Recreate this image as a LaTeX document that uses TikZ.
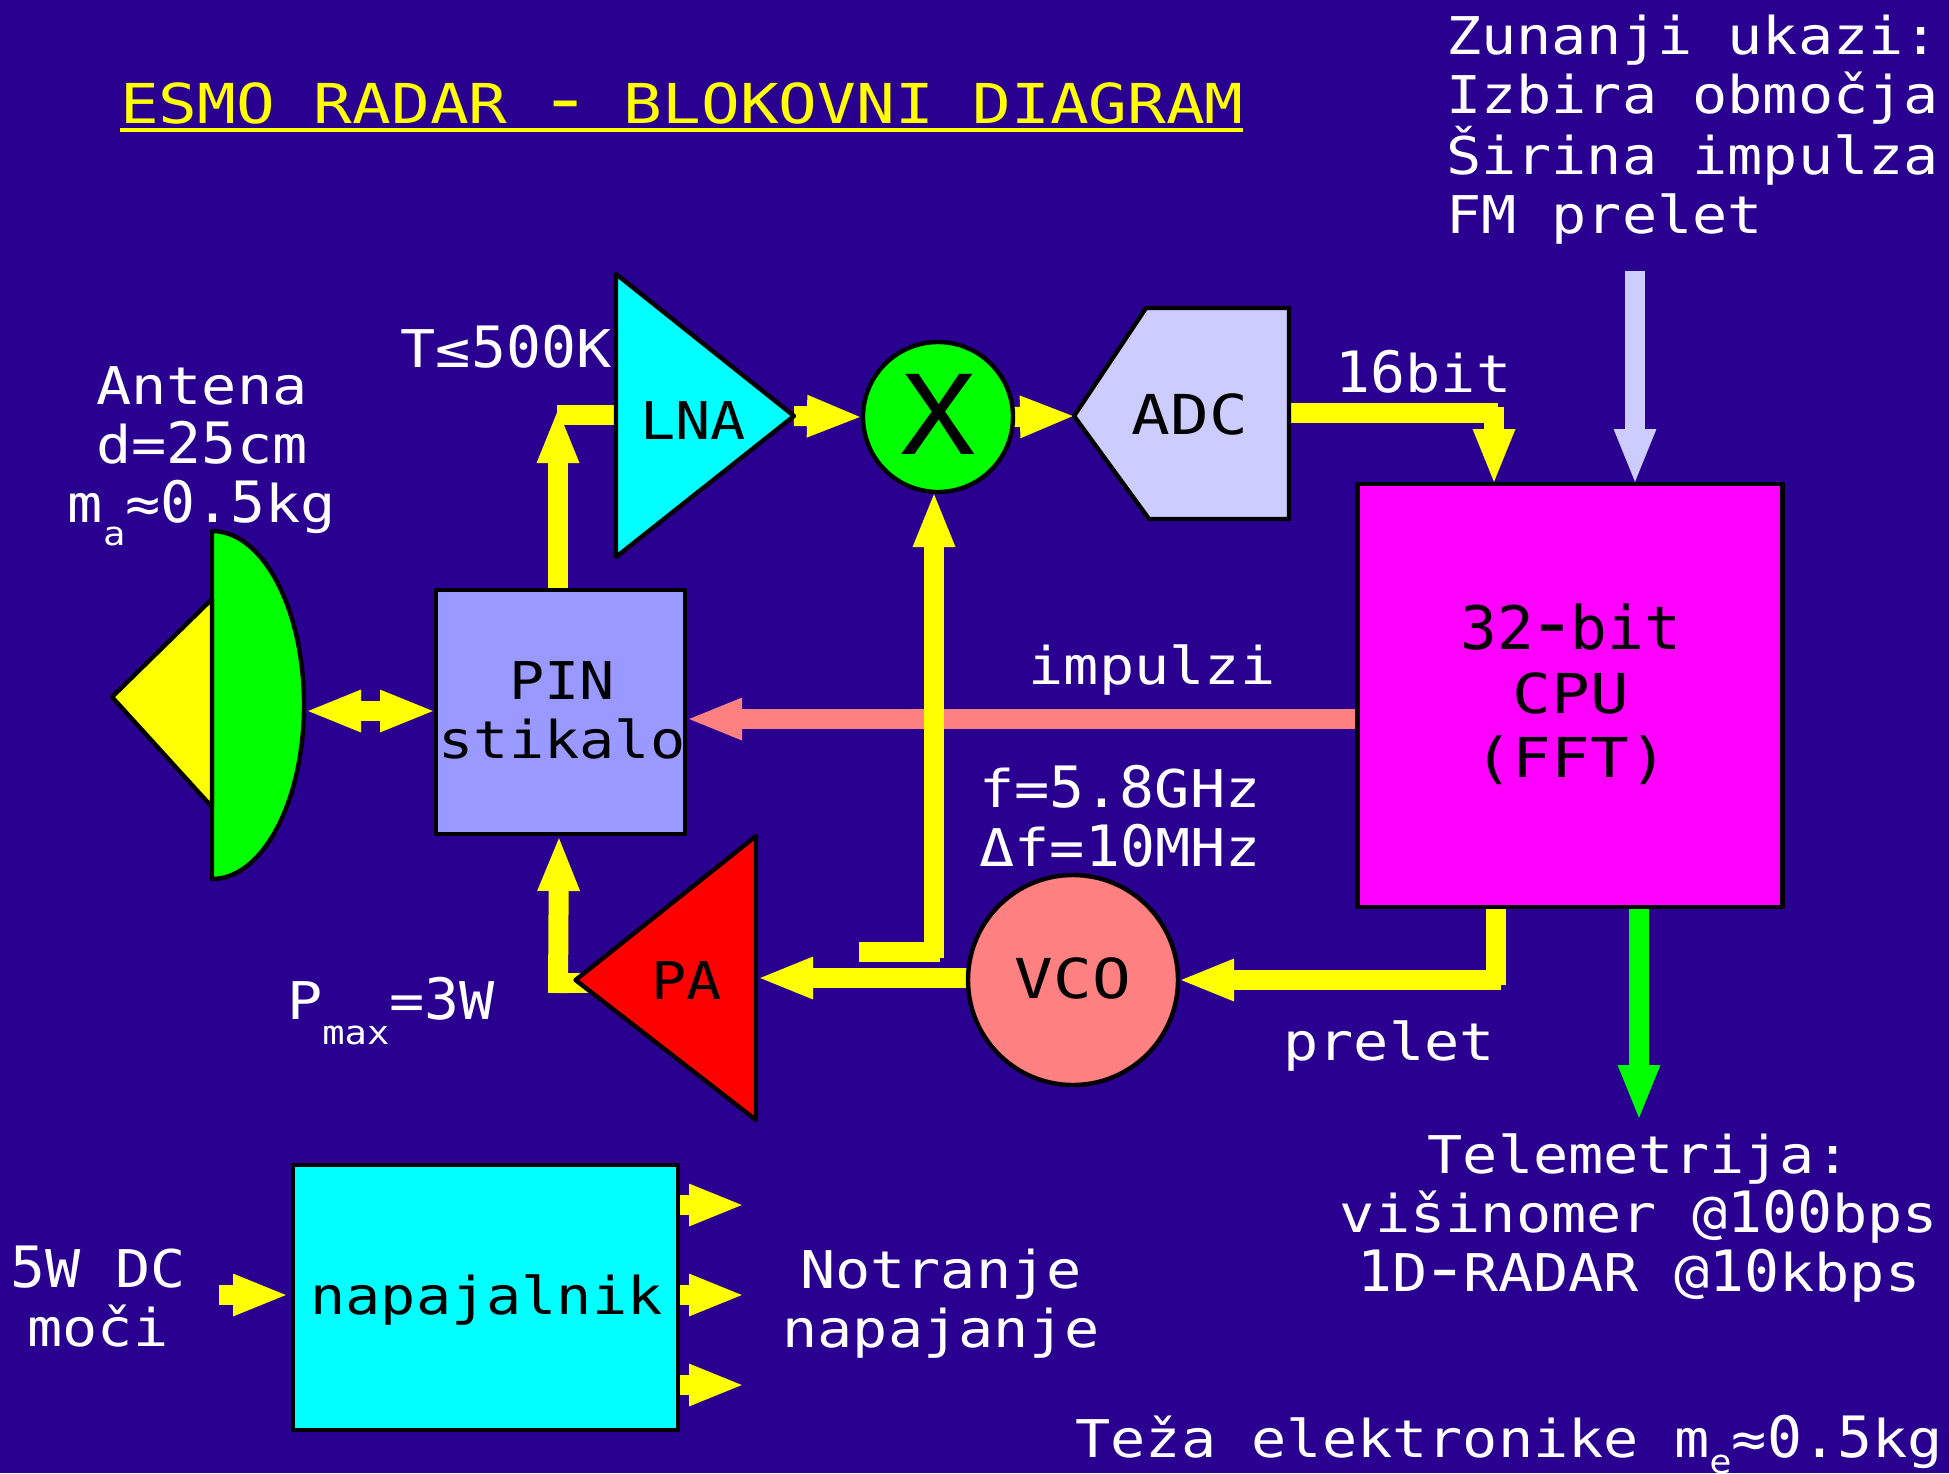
\documentclass[tikz,border=0pt]{standalone}
\usepackage{fontspec}
\usetikzlibrary{arrows.meta}
\newfontfamily\basefam[FakeStretch=1.125]{DejaVu Sans Mono}
\newfontfamily\numfam[FakeStretch=1.02]{DejaVu Sans Mono}
\newfontfamily\bigfam[FakeStretch=1.17]{DejaVu Sans Mono}
\newfontfamily\xfam[FakeStretch=1.14]{DejaVu Sans Mono}
\newcommand{\basefont}{\fontsize{26}{29.35}\selectfont\basefam}
\newcommand{\bigfont}{\fontsize{27.5}{32}\selectfont\bigfam}
\newcommand{\Nm}[1]{{\fontsize{28.5}{29.35}\selectfont\numfam #1}}
\newcommand{\Sb}[2]{\raisebox{#1}{\fontsize{16.5}{18}\selectfont\basefam #2}}
\newcommand{\Hy}[1]{\makebox[#1][c]{\scalebox{1.4}[1.3]{-}}}
\definecolor{bgc}{HTML}{2A0091}
\definecolor{pinc}{HTML}{9999FF}
\definecolor{adcc}{HTML}{CCCCFF}
\definecolor{vcoc}{HTML}{FF8080}
\definecolor{yel}{HTML}{FFFF00}
\definecolor{cyn}{HTML}{00FFFF}
\definecolor{mag}{HTML}{FF00FF}
\definecolor{grn}{HTML}{00FF00}
\definecolor{rd}{HTML}{FF0000}
\pgfdeclarelayer{canvas}
\pgfdeclarelayer{wires}
\pgfsetlayers{canvas,wires,main}
\tikzset{
  lbl/.style={inner sep=0pt,outer sep=0pt,text=white,font=\basefont,align=center,anchor=base},
  blk/.style={lbl,text=black},
  bigblk/.style={blk,font=\bigfont},
  shp/.style={draw=black,line width=2.2pt,line join=round},
  boxn/.style={shp,inner sep=0pt,outer sep=0pt,rectangle},
  circn/.style={shp,inner sep=0pt,outer sep=0pt,circle},
  wire/.style={draw=yel,line width=10pt},
  head/.style={-{Triangle[length=28pt,width=19pt]}},
  dhead/.style={{Triangle[length=28pt,width=19pt]}-{Triangle[length=28pt,width=19pt]}},
}
\begin{document}
\begin{tikzpicture}[x=0.5pt,y=-0.5pt]
\useasboundingbox (0,0) rectangle (1949,1473);
\begin{pgfonlayer}{canvas}
\fill[bgc] (0,0) rectangle (1949,1473);
\end{pgfonlayer}

% blocks
\node[boxn,fill=pinc,minimum width=124.5pt,minimum height=122pt] (pin) at (560.5,712) {};
\node[boxn,fill=mag,minimum width=212.5pt,minimum height=211.5pt] (cpu) at (1570,695.5) {};
\node[boxn,fill=cyn,minimum width=192.5pt,minimum height=132.5pt] (psu) at (485.5,1297.5) {};
\node[circn,fill=grn,minimum size=75pt] (mixer) at (938,417) {};
\node[circn,fill=vcoc,minimum size=105pt] (vco) at (1073,980) {};

% polygons
\draw[shp,fill=grn] (212,531) arc[start angle=90,end angle=-90,x radius=46pt,y radius=87pt] -- cycle;
\draw[shp,fill=yel] (112,697) -- (212,599) -- (212,807) -- cycle;
\draw[shp,fill=cyn] (616,274) -- (794,416) -- (616,557) -- cycle;
\draw[shp,fill=rd] (575.5,980) -- (756,836) -- (756,1120) -- cycle;
\draw[shp,fill=adcc] (1074,416) -- (1146,308) -- (1289,308) -- (1289,519) -- (1149,519) -- cycle;

% ports
\coordinate (dishE) at (305,711);
\coordinate (pinW) at (436,711);
\coordinate (pinN) at (558,590);
\coordinate (lnaN) at (558,407);
\coordinate (lnaW) at (616,415);
\coordinate (lnaC) at (557,415);
\coordinate (lnaT) at (794,416);
\coordinate (adcT) at (1076,416);
\coordinate (adcE) at (1291,413);
\coordinate (adcC) at (1498,413);
\coordinate (cpuA) at (1494,407);
\coordinate (cpuAT) at (1494,485);
\coordinate (extS) at (1635,271);
\coordinate (extT) at (1635,485);
\coordinate (cpuP) at (1356,719);
\coordinate (pinE) at (686,719);
\coordinate (cpuV) at (1496,907);
\coordinate (cpuVC) at (1496,985);
\coordinate (vcoC) at (1501,980);
\coordinate (vcoW) at (968,978);
\coordinate (paE) at (757,978);
\coordinate (stubW) at (859,952);
\coordinate (stubE) at (940,952);
\coordinate (mixV) at (934,958);
\coordinate (mixS) at (934,491);
\coordinate (paT) at (590,983);
\coordinate (paC) at (548,983);
\coordinate (pinV) at (558,993);
\coordinate (pinS) at (559,835);
\coordinate (cpuG) at (1639,907);
\coordinate (telN) at (1639,1121);
\coordinate (dcS) at (219,1295);
\coordinate (psuW) at (289,1295);
\coordinate (o1S) at (680,1205);
\coordinate (o1T) at (745,1205);
\coordinate (o2S) at (680,1295);
\coordinate (o2T) at (745,1295);
\coordinate (o3S) at (680,1385);
\coordinate (o3T) at (745,1385);

% connectors
\begin{pgfonlayer}{wires}
\draw[wire,draw=vcoc,head] (cpuP) -- (pinE);
\draw[wire,dhead] (dishE) -- (pinW);
\draw[wire,head] (pinN) -- (lnaN);
\draw[wire] (lnaW) -- (lnaC);
\draw[wire,head] (lnaT) -- (mixer.west);
\draw[wire,head] (mixer.east) -- (adcT);
\draw[wire] (adcE) -- (adcC);
\draw[wire,head] (cpuA) -- (cpuAT);
\draw[wire,draw=adcc,head] (extS) -- (extT);
\draw[wire] (cpuV) -- (cpuVC);
\draw[wire,head] (vcoC) -- (vco.east);
\draw[wire,head] (vcoW) -- (paE);
\draw[wire] (stubW) -- (stubE);
\draw[wire,head] (mixV) -- (mixS);
\draw[wire] (paT) -- (paC);
\draw[wire,head] (pinV) -- (pinS);
\draw[wire,draw=grn,head] (cpuG) -- (telN);
\draw[wire,head] (dcS) -- (psuW);
\draw[wire,head] (o1S) -- (o1T);
\draw[wire,head] (o2S) -- (o2T);
\draw[wire,head] (o3S) -- (o3T);
\end{pgfonlayer}

% title
\node[lbl,text=yel,font=\bigfont] (title) at (682,123) {ESMO RADAR \Hy{19.4pt} BLOKOVNI DIAGRAM};
\draw[yel,line width=2pt] (120,130) -- (1243,130);

% block texts
\node[blk] (lnat) at (693,439) {LNA};
\node[blk] (pint) at (562,758) {PIN\\stikalo};
\node[blk] (pat) at (686.5,999) {PA};
\node[bigblk] (vcot) at (1073,998) {VCO};
\node[bigblk] (adct) at (1190,434) {ADC};
\node[blk,font=\fontsize{55}{60}\selectfont\xfam] (mixt) at (938,454) {X};
\node[bigblk] (cput) at (1571,777) {\Nm{\fontsize{30}{32}\selectfont 32\Hy{18.4pt}bit}\\CPU\\(FFT)};
\node[blk] (psut) at (486.5,1314) {napajalnik};

% labels
\node[lbl] (ant) at (202,522) {Antena\\d=\Nm{25}cm\\m\Sb{-11.7pt}{a}≈\Nm{0.5}kg};
\node[lbl] (tk) at (506,367) {T≤\Nm{500}K};
\node[lbl] (pm) at (391,1019) {P\Sb{-12.5pt}{max}=\Nm{3}W};
\node[lbl,align=left,anchor=base west] (zun) at (1446,233) {Zunanji ukazi:\\Izbira območja\\Širina impulza\\FM prelet};
\node[lbl] (bit) at (1423.5,392) {\Nm{16}bit};
\node[lbl] (imp) at (1152,684) {impulzi};
\node[lbl] (frq) at (1120,866) {f=\Nm{5.8}GHz\\Δf=\Nm{10}MHz};
\node[lbl] (prl) at (1389,1060) {prelet};
\node[lbl] (tel) at (1639,1291) {Telemetrija:\\višinomer @\Nm{100}bps\\\Nm{1}D\Hy{17.6pt}RADAR @\Nm{10}kbps};
\node[lbl] (dc) at (98,1346) {\Nm{5}W DC\\moči};
\node[lbl] (ntr) at (941,1347) {Notranje\\napajanje};
\node[lbl] (tez) at (1509,1457) {Teža elektronike m\Sb{-8pt}{e}≈\Nm{0.5}kg};
\end{tikzpicture}
\end{document}
